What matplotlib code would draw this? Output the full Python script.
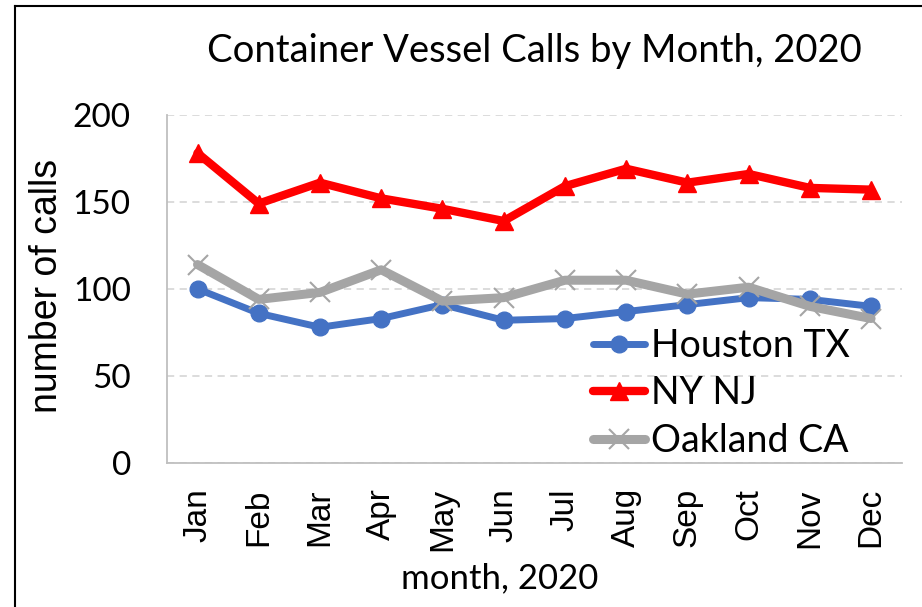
import numpy as np
import matplotlib.pyplot as plt
from matplotlib.lines import Line2D

# data
months = ['Jan', 'Feb', 'Mar', 'Apr', 'May', 'Jun', 'Jul', 'Aug', 'Sep', 'Oct', 'Nov', 'Dec']
houston = [100, 86, 78, 83, 91, 82, 83, 87, 91, 95, 94, 90]
nynj = [178, 149, 161, 152, 146, 139, 159, 169, 161, 166, 158, 157]
oakland = [114, 94, 98, 111, 93, 95, 105, 105, 97, 101, 90, 83]

calibri = 'Lato'
arial = 'Liberation Sans'

fig = plt.figure(figsize=(9.22, 6.07), dpi=100)
ax = fig.add_axes([0.181, 0.237, 0.797, 0.574])

x = np.arange(len(months))
ax.plot(x, houston, color='#4472C4', lw=5, marker='o', ms=12,
        solid_capstyle='round', label='Houston TX', zorder=3)
ax.plot(x, nynj, color='#FF0000', lw=6, marker='^', ms=13,
        solid_capstyle='round', label='NY NJ', zorder=3)
ax.plot(x, oakland, color='#A5A5A5', lw=6.5, marker='x', ms=14, mew=1.5,
        solid_capstyle='round', label='Oakland CA', zorder=4)

ax.set_xlim(-0.5, 11.5)
ax.set_ylim(0, 200)
ax.set_yticks([0, 50, 100, 150, 200])
ax.set_xticks(x)
ax.set_xticklabels(months, rotation=90, fontsize=24, family=arial)
for t in ax.get_yticklabels():
    t.set_family(calibri)
    t.set_fontsize(24)
ax.tick_params(axis='y', length=0, pad=26)
ax.tick_params(axis='x', length=0, pad=18)

ax.grid(axis='y', color='#D9D9D9', ls=(0, (4, 3)), lw=1.3)
ax.set_axisbelow(True)
for s in ['top', 'right']:
    ax.spines[s].set_visible(False)
for s in ['left', 'bottom']:
    ax.spines[s].set_color('#BFBFBF')
    ax.spines[s].set_linewidth(1.3)

ax.set_title('Container Vessel Calls by Month, 2020', family=calibri, fontsize=27.5,
             x=0.5, y=1.0, pad=38)
ax.set_ylabel('number of calls', family=arial, fontsize=27)
ax.yaxis.set_label_coords(-0.163, 0.51)
ax.yaxis.label.set_va('center')
ax.set_xlabel('month, 2020', family=calibri, fontsize=25)
ax.xaxis.set_label_coords(0.453, -0.33)
ax.xaxis.label.set_va('center')

ax.legend(loc='center left', bbox_to_anchor=(0.544, 0.2), frameon=False,
          prop={'family': calibri, 'size': 27}, handlelength=1.4,
          handletextpad=0.15, labelspacing=0.3, borderpad=0.2)

# chart border on top and left
fig.add_artist(Line2D([0.016, 1.0], [0.99, 0.99], color='black', lw=1.5))
fig.add_artist(Line2D([0.016, 0.016], [0.0, 0.99], color='black', lw=1.5))

fig.savefig('out.png', dpi=100)
